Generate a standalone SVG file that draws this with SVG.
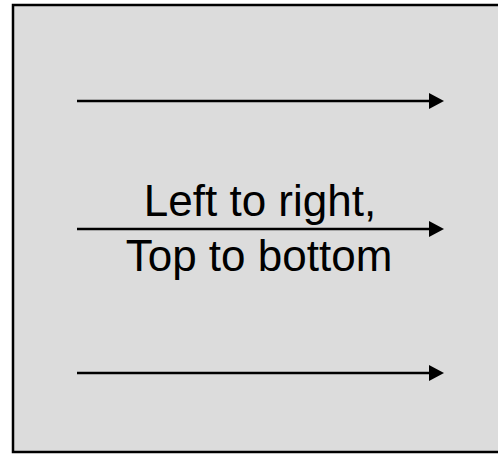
<svg xmlns="http://www.w3.org/2000/svg" width="498" height="454" viewBox="0 0 498 454">
  <style>
    .frame { fill: #dcdcdc; stroke: #000; stroke-width: 2.5; }
    .flow { stroke: #000; stroke-width: 2.5; fill: none; marker-end: url(#head); }
    .label { font-family: "Liberation Sans", Arial, sans-serif; font-size: 44px; fill: #000; text-anchor: middle; }
  </style>
  <defs>
    <marker id="head" viewBox="0 0 15 16" refX="0" refY="8" markerUnits="userSpaceOnUse" markerWidth="15" markerHeight="16" orient="auto">
      <path d="M0,0 L15,8 L0,16 Z" fill="#000"/>
    </marker>
  </defs>
  <g id="panel">
    <rect class="frame" x="13" y="5" width="500" height="447"/>
  </g>
  <g id="connectors">
    <line class="flow" x1="77" y1="101" x2="429" y2="101"/>
    <line class="flow" x1="77" y1="229" x2="429" y2="229"/>
    <line class="flow" x1="77" y1="373" x2="429" y2="373"/>
  </g>
  <g id="caption">
    <text class="label" x="260" y="216">Left to right,</text>
    <text class="label" x="259" y="271">Top to bottom</text>
  </g>
</svg>
